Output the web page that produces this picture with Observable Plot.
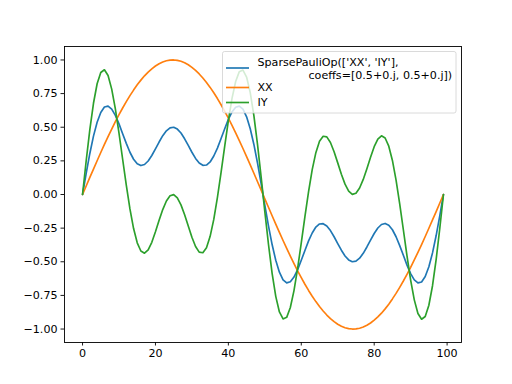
<!DOCTYPE html>
<html>
<head>
<meta charset="utf-8">
<script src="https://cdn.jsdelivr.net/npm/d3@7"></script>
<script src="https://cdn.jsdelivr.net/npm/@observablehq/plot@0.6"></script>
<style>
  html, body { margin: 0; padding: 0; background: white; }
</style>
</head>
<body>
<div id="chart"></div>
<script>
// Series labels (legend order)
const seriesNames = ["SparsePauliOp(['XX', 'IY'],\n              coeffs=[0.5+0.j, 0.5+0.j])", "XX", "IY"];
const seriesColors = ["#1f77b4", "#ff7f0e", "#2ca02c"];

// x: sample index 0..99
const xs = d3.range(100);

const sumOp = [
  0, .157, .305, .434, .537, .610, .650, .657, .635, .588, .525, .452, .380, .314, .262, .228, .215, .223, .249, .290,
  .339, .390, .437, .473, .495, .500, .486, .457, .414, .365, .314, .268, .234, .217, .219, .242, .286, .345, .416, .489,
  .558, .614, .649, .657, .634, .577, .489, .372, .233, .079,
  -.079, -.233, -.372, -.489, -.577, -.634, -.657, -.649, -.614, -.558, -.489, -.416, -.345, -.286, -.242, -.219, -.217, -.234, -.268, -.314,
  -.365, -.414, -.457, -.486, -.500, -.495, -.473, -.437, -.390, -.339, -.290, -.249, -.223, -.215, -.228, -.262, -.314, -.380, -.452, -.525,
  -.588, -.635, -.657, -.650, -.610, -.537, -.434, -.305, -.157, 0
];

const xx = [
  0, .063, .127, .189, .251, .312, .372, .430, .486, .541, .593, .643, .690, .735, .776, .815, .850, .882, .910, .934,
  .955, .972, .985, .994, .999, 1.000, .997, .990, .979, .964, .945, .922, .896, .866, .833, .796, .756, .713, .667, .618,
  .567, .514, .458, .401, .342, .282, .220, .158, .095, .032,
  -.032, -.095, -.158, -.220, -.282, -.342, -.401, -.458, -.514, -.567, -.618, -.667, -.713, -.756, -.796, -.833, -.866, -.896, -.922, -.945,
  -.964, -.979, -.990, -.997, -1.000, -.999, -.994, -.985, -.972, -.955, -.934, -.910, -.882, -.850, -.815, -.776, -.735, -.690, -.643, -.593,
  -.541, -.486, -.430, -.372, -.312, -.251, -.189, -.127, -.063, 0
];

const iy = [
  0, .251, .482, .678, .823, .907, .927, .884, .783, .636, .457, .262, .069, -.107, -.253, -.359, -.420, -.436, -.411, -.355,
  -.277, -.192, -.112, -.048, -.009, -.001, -.025, -.077, -.151, -.235, -.318, -.386, -.428, -.433, -.395, -.311, -.185, -.022, .164, .360,
  .549, .714, .840, .913, .925, .873, .757, .586, .370, .127,
  -.127, -.370, -.586, -.757, -.873, -.925, -.913, -.840, -.714, -.549, -.360, -.164, .022, .185, .311, .395, .433, .428, .386, .318,
  .235, .151, .077, .025, .001, .009, .048, .112, .192, .277, .355, .411, .436, .420, .359, .253, .107, -.069, -.262, -.457,
  -.636, -.783, -.884, -.927, -.907, -.823, -.678, -.482, -.251, 0
];

const xTicks = [0, 20, 40, 60, 80, 100];
const yTicks = [-1, -0.75, -0.5, -0.25, 0, 0.25, 0.5, 0.75, 1];

const seriesValues = [sumOp, xx, iy];
const rows = seriesNames.flatMap((name, s) =>
  seriesValues[s].map((v, i) => ({x: xs[i], v, name}))
);

const W = 512, H = 384;
const mL = 64, mR = 51, mT = 46, mB = 42;

const svg = Plot.plot({
  width: W,
  height: H,
  marginLeft: mL,
  marginRight: mR,
  marginTop: mT,
  marginBottom: mB,
  style: {fontFamily: "DejaVu Sans", fontSize: "11.1px", color: "black", background: "white"},
  x: {domain: [-4.95, 103.95]},
  y: {domain: [-1.1, 1.1]},
  color: {domain: seriesNames, range: seriesColors},
  marks: [
    Plot.line(rows, {x: "x", y: "v", z: "name", stroke: "name", strokeWidth: 1.67, strokeLinejoin: "round"}),
    Plot.frame({stroke: "black", strokeWidth: 0.9}),
    Plot.axisX({ticks: xTicks, tickFormat: d => String(d), tickSize: 3.5, tickPadding: 3.5, strokeWidth: 0.9, label: null, fontSize: 11.1}),
    Plot.axisY({ticks: yTicks, tickFormat: d3.format(".2f"), tickSize: 3.5, tickPadding: 3.5, strokeWidth: 0.9, label: null, fontSize: 11.1})
  ]
});

document.getElementById("chart").appendChild(svg);

// Legend (matplotlib-style, upper right inside axes)
const lg = d3.select(svg).append("g")
  .attr("font-family", "DejaVu Sans").attr("font-size", "11.1px").attr("text-anchor", "start");
lg.append("rect")
  .attr("x", 222.5).attr("y", 51.5).attr("width", 233.5).attr("height", 61.5)
  .attr("rx", 2).attr("fill", "rgba(255,255,255,0.8)")
  .attr("stroke", "rgba(204,204,204,0.8)").attr("stroke-width", 0.9);

const entries = [
  {lines: seriesNames[0].split("\n"), color: seriesColors[0], hy: 68, ty: [62, 75.5], tx: [257.5, 308.5]},
  {lines: [seriesNames[1]], color: seriesColors[1], hy: 87.5, ty: [87.5], tx: [257.5]},
  {lines: [seriesNames[2]], color: seriesColors[2], hy: 102.5, ty: [102.5], tx: [257.5]}
];
for (const e of entries) {
  lg.append("line").attr("x1", 226).attr("x2", 249).attr("y1", e.hy).attr("y2", e.hy)
    .attr("stroke", e.color).attr("stroke-width", 1.67);
  e.lines.forEach((t, j) => {
    lg.append("text").attr("x", e.tx[j]).attr("y", e.ty[j]).attr("dy", "0.35em")
      .attr("text-anchor", "start").attr("fill", "black").text(t.trim());
  });
}
</script>
</body>
</html>
